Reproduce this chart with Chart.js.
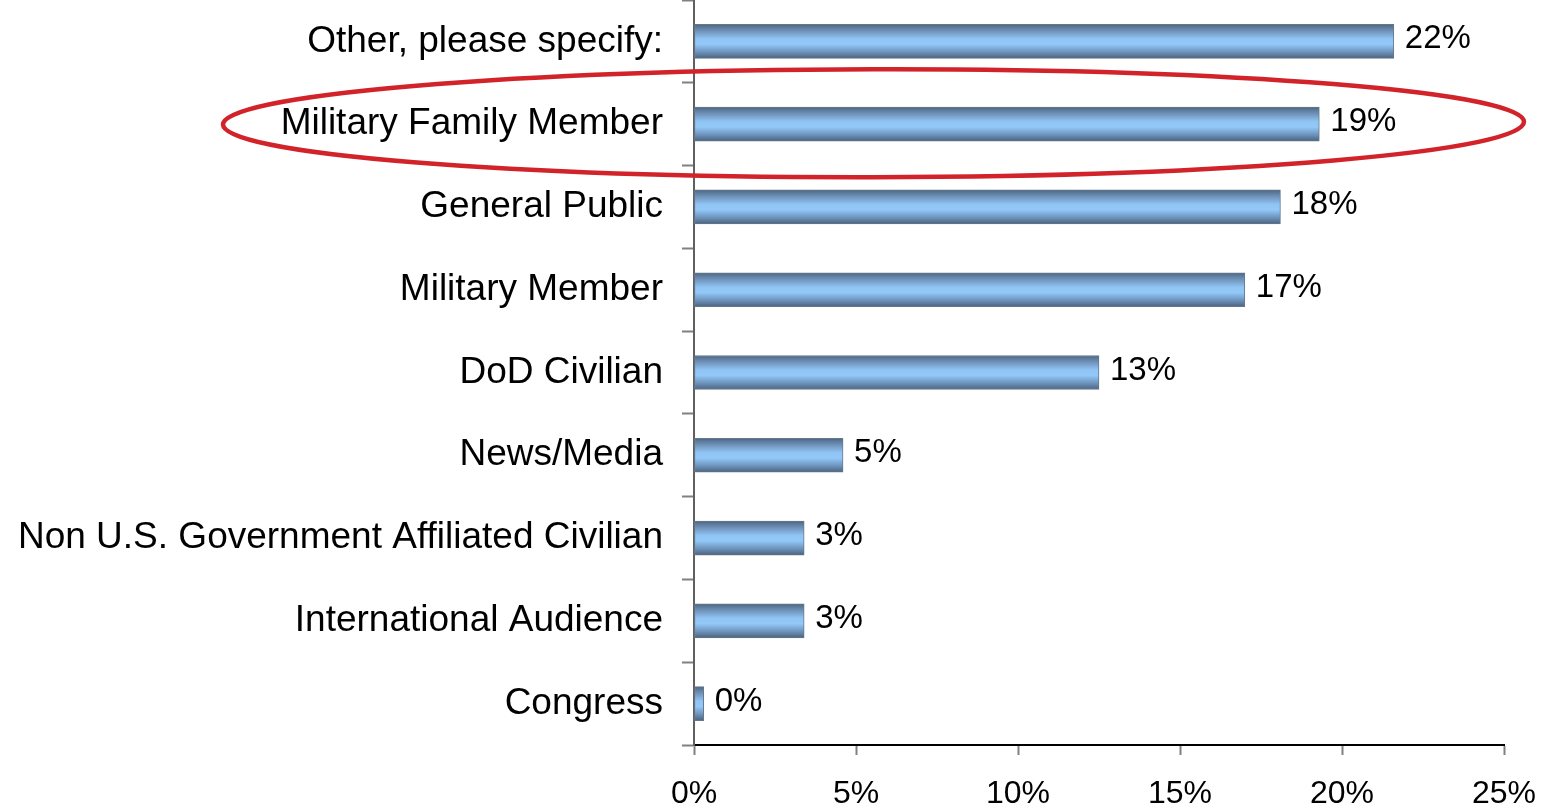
<!DOCTYPE html>
<html>
<head>
<meta charset="utf-8">
<script src="https://cdn.jsdelivr.net/npm/chart.js@4.4.1/dist/chart.umd.min.js"></script>
<style>
  html, body { margin: 0; padding: 0; background: #fff; }
  #wrap { position: relative; width: 1549px; height: 811px; }
</style>
</head>
<body>
<div id="wrap"><canvas id="chart"></canvas></div>
<script>
const categories = [
  'Other, please specify:',
  'Military Family Member',
  'General Public',
  'Military Member',
  'DoD Civilian',
  'News/Media',
  'Non U.S. Government Affiliated Civilian',
  'International Audience',
  'Congress',
];
const shares = [21.6, 19.3, 18.1, 17.0, 12.5, 4.6, 3.4, 3.4, 0.3];
const xTicks = [0, 5, 10, 15, 20, 25];
const highlighted = 'Military Family Member';

const FONT = "'Liberation Sans', Arial, sans-serif";
const BAR = 34;

function barFill(c) {
  const chart = c.chart;
  if (!chart.chartArea) return '#8fc3f3';
  const y = chart.scales.y.getPixelForValue(c.dataIndex);
  const g = chart.ctx.createLinearGradient(0, y - BAR / 2, 0, y + BAR / 2);
  g.addColorStop(0, '#4d6683');
  g.addColorStop(0.18, '#6d8fb5');
  g.addColorStop(0.42, '#8fc4f4');
  g.addColorStop(0.58, '#93c9f9');
  g.addColorStop(0.82, '#6c91b9');
  g.addColorStop(1, '#4a627e');
  return g;
}

// percent labels just past the end of each bar
const valueLabels = {
  id: 'valueLabels',
  afterDatasetsDraw(chart) {
    const { ctx } = chart;
    const meta = chart.getDatasetMeta(0);
    ctx.save();
    ctx.font = `33px ${FONT}`;
    ctx.fillStyle = '#000';
    ctx.textAlign = 'left';
    ctx.textBaseline = 'middle';
    meta.data.forEach((bar, i) => {
      ctx.fillText(`${Math.round(shares[i])}%`, bar.x + 11, bar.y - 2);
    });
    ctx.restore();
  },
};

// red ring drawn round one category row
const ring = {
  id: 'ring',
  afterDraw(chart) {
    const { ctx } = chart;
    const y = chart.scales.y.getPixelForValue(categories.indexOf(highlighted));
    const left = 223, right = 1524;
    ctx.save();
    ctx.strokeStyle = '#d2232a';
    ctx.lineWidth = 4.5;
    ctx.beginPath();
    ctx.ellipse((left + right) / 2, y - 1, (right - left) / 2, 54, -0.002, 0, Math.PI * 2);
    ctx.stroke();
    ctx.restore();
  },
};

new Chart(document.getElementById('chart'), {
  type: 'bar',
  data: {
    labels: categories,
    datasets: [{
      data: shares,
      backgroundColor: barFill,
      borderColor: '#66778a',
      borderWidth: 1,
      borderSkipped: false,
      barThickness: BAR,
    }],
  },
  options: {
    indexAxis: 'y',
    responsive: true,
    maintainAspectRatio: false,
    animation: false,
    layout: { padding: { top: -4, left: 0, right: 45, bottom: 0 } },
    plugins: { legend: { display: false }, tooltip: { enabled: false } },
    scales: {
      x: {
        min: 0,
        max: 25,
        afterBuildTicks: (s) => { s.ticks = xTicks.map((v) => ({ value: v })); },
        afterFit: (s) => {
          s.height = 66;
          s.paddingLeft = 0;
          s.paddingRight = 0;
        },
        ticks: {
          callback: (v) => `${v}%`,
          color: '#000',
          font: { family: FONT, size: 32 },
          padding: 20,
          maxRotation: 0,
        },
        grid: {
          drawOnChartArea: false,
          tickLength: 10,
          tickColor: '#808080',
          tickWidth: 2,
        },
        border: { color: '#000', width: 2 },
      },
      y: {
        afterFit: (s) => {
          s.width = 694;
          s.paddingTop = 0;
          s.paddingBottom = 0;
        },
        ticks: {
          color: '#000',
          font: { family: FONT, size: 37 },
          padding: 19,
        },
        grid: {
          offset: true,
          drawOnChartArea: false,
          tickLength: 12,
          tickColor: '#808080',
          tickWidth: 2,
        },
        border: { color: '#606060', width: 2 },
      },
    },
  },
  plugins: [valueLabels, ring],
});
</script>
</body>
</html>
